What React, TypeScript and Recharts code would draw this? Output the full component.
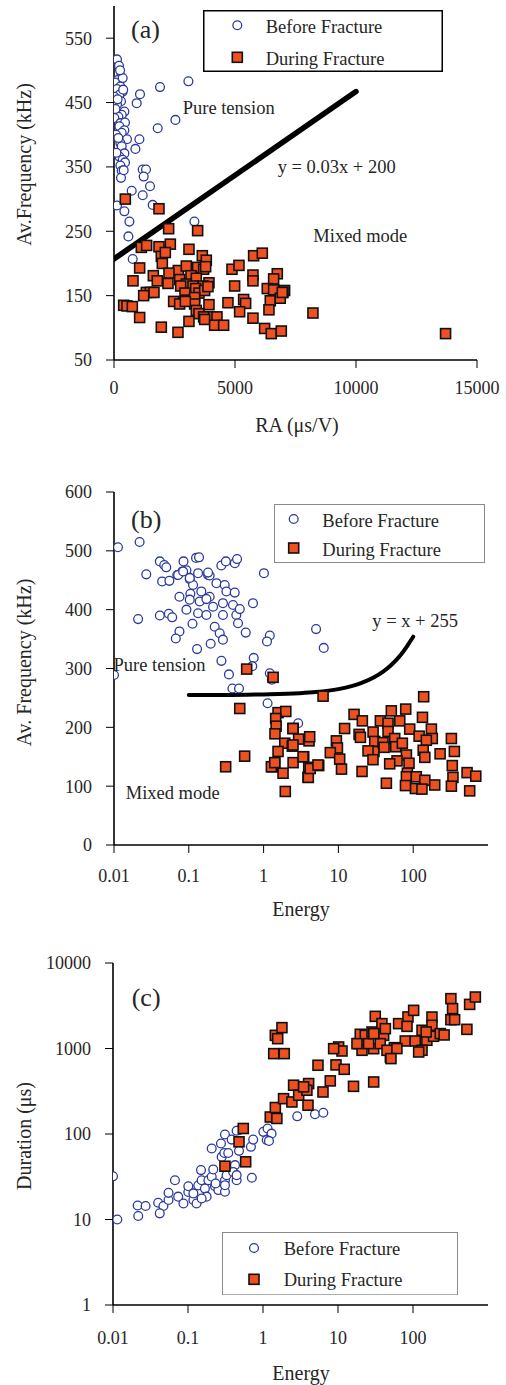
import React from "react";
import { ScatterChart, Scatter, XAxis, YAxis, Legend } from "recharts";

const FONT = '"Liberation Serif", "Times New Roman", serif';
const INK = "#262626";
const BLUE = "#2b3a9c";
const ORANGE = "#ef5020";
const FRAME = "#9a9a9a";

// ---- panel (a): RA vs average frequency ----
const aBeforeRA = [
  124, 207, 289, 153, 359, 41, 264, 124, 359, 223, 17, 289, 124, 429, 318, 182, 17, 264, 455, 223,
  429, 318, 83, 537, 264, 318, 429, 223, 359, 455, 264, 318, 289, 1074, 938, 1901, 3074, 2537, 1806, 1049,
  884, 1186, 1322, 1227, 1488, 731, 1186, 1599, 124, 429, 636, 3322, 595, 773, 60, 180, 100, 400, 150, 250, 380,
];
const aBeforeFreq = [
  517, 507, 490, 485, 488, 481, 475, 471, 467, 462, 459, 452, 447, 436, 431, 428, 426, 418, 419, 413,
  407, 403, 400, 393, 387, 382, 371, 366, 361, 357, 352, 344, 333, 463, 449, 474, 483, 423, 410, 393,
  378, 346, 346, 335, 320, 313, 306, 291, 290, 281, 265, 265, 242, 207, 440, 395, 372, 345, 455, 500, 470,
];
const aDuringRA = [
  468, 1859, 2258, 3456, 1129, 1349, 1859, 2327, 3098, 1955, 2121, 1997, 3649, 3814, 5770, 6128, 1060, 2658, 2988, 3456,
  3704, 3787, 4875, 5164, 6748, 5742, 2272, 2713, 3181, 1625, 1790, 2231, 785, 3401, 3924, 3677, 2988, 3263, 2754, 4985,
  5742, 6596, 6334, 6596, 7050, 6982, 1336, 1501, 1652, 1226, 3374, 3511, 3745, 3883, 2933, 2988, 3332, 3332, 2465, 2713,
  2947, 3924, 4709, 5357, 5439, 6458, 6871, 6954, 399, 537, 757, 3401, 3511, 5191, 6403, 1060, 3952, 4255, 3704, 3745,
  3098, 5742, 4158, 4530, 1955, 2644, 6224, 6499, 6913, 8221, 13701,
];
const aDuringFreq = [
  300, 285, 254, 251, 225, 228, 226, 230, 222, 211, 217, 200, 212, 205, 212, 216, 193, 189, 196, 194,
  191, 195, 191, 197, 184, 182, 185, 175, 181, 181, 173, 169, 173, 177, 170, 165, 168, 165, 165, 165,
  173, 176, 161, 159, 158, 155, 155, 155, 155, 150, 161, 154, 158, 164, 154, 143, 147, 137, 141, 137,
  141, 136, 139, 144, 138, 142, 146, 155, 135, 134, 133, 127, 122, 125, 128, 116, 117, 117, 117, 113,
  110, 115, 104, 104, 101, 93, 99, 91, 95, 123, 91,
];
const aGuideRA = [0, 10000];
const aGuideFreq = [207, 467];

// ---- panel (b): energy vs average frequency ----
const bBeforeEnergy = [
  0.0113, 0.022, 0.027, 0.021, 0.01, 0.041, 0.047, 0.05, 0.085, 0.125, 0.137, 0.044, 0.055, 0.07, 0.082, 0.093,
  0.041, 0.054, 0.06, 0.075, 0.105, 0.103, 0.114, 0.072, 0.084, 0.133, 0.181, 0.103, 0.147, 0.19, 0.234, 0.302,
  0.318, 0.411, 0.103, 0.14, 0.172, 0.211, 0.286, 0.39, 0.093, 0.133, 0.172, 0.286, 0.432, 0.48, 0.112, 0.222,
  0.259, 0.286, 0.455, 0.577, 0.721, 0.075, 0.067, 0.129, 0.196, 0.273, 0.344, 0.738, 1.21, 1.11, 1.21, 1.29,
  0.706, 0.383, 0.469, 1.13, 5.03, 6.37, 1.01, 2.9, 0.272, 0.313, 0.412, 0.442, 0.19, 0.181,
];
const bBeforeFreq = [
  506, 515, 460, 384, 289, 482, 476, 472, 482, 488, 489, 448, 449, 459, 465, 467,
  390, 393, 387, 422, 427, 452, 442, 459, 465, 462, 459, 454, 431, 422, 445, 442,
  431, 429, 417, 414, 418, 405, 411, 408, 400, 394, 391, 391, 391, 401, 376, 371,
  360, 349, 377, 361, 411, 363, 351, 333, 342, 313, 290, 318, 356, 346, 292, 281,
  304, 266, 266, 241, 367, 335, 462, 207, 475, 482, 479, 486, 458, 463,
];
const bDuringEnergy = [
  1.34, 6.24, 138, 1.56, 1.98, 1.45, 1.47, 1.42, 2.48, 2.94, 4.05, 4.13, 1.92, 2.42, 1.56, 1.41, 1.31, 2.48, 1.82,
  3.44, 4.01, 3.93, 5.46, 1.95, 16.2, 20.9, 12.1, 9.4, 18.9, 19.7, 9.7, 7.8, 10.4, 11.0, 20.7, 29.1, 30.6, 29.9,
  24.9, 29.0, 36.4, 46.1, 46.1, 51, 79.4, 66.1, 39.5, 40.8, 56.6, 58.4, 71.6, 89.8, 120, 133, 175, 180, 150, 136,
  143, 81.1, 87.9, 60.8, 48.5, 83.6, 81.1, 110, 143, 194, 107, 131, 43.8, 229, 324, 355, 333, 340, 324, 525, 686,
  569, 78.8, 0.594, 0.48, 0.311, 0.558, 1.27, 1.41, 2.47, 2.47, 3.37, 3.96, 4.2, 5.33,
];
const bDuringFreq = [
  285, 253, 252, 225, 227, 215, 202, 189, 198, 180, 177, 184, 173, 168, 159, 139, 133, 140, 122,
  150, 132, 115, 135, 91, 222, 211, 198, 177, 188, 183, 165, 157, 146, 129, 125, 192, 176, 159,
  160, 145, 211, 207, 193, 228, 231, 211, 174, 166, 181, 167, 173, 197, 185, 217, 197, 181, 178, 161,
  149, 153, 139, 143, 138, 122, 116, 116, 110, 102, 96, 95, 105, 155, 181, 159, 135, 115, 100, 123, 117,
  92, 101, 299, 232, 133, 151, 133, 140, 198, 170, 150, 115, 130, 136,
];
const bGuideEnergy = [0.1, 0.3, 1, 3, 5, 10, 15, 20, 30, 40, 50, 60, 70, 80, 90, 100];
const bGuideFreq = [255, 255, 256, 258, 260, 265, 270, 275, 285, 295, 305, 315, 325, 335, 345, 354];

// ---- panel (c): energy vs duration ----
const cBeforeEnergy = [
  0.01, 0.0114, 0.0213, 0.0272, 0.0217, 0.04, 0.047, 0.042, 0.055, 0.055, 0.067, 0.074, 0.087, 0.101, 0.118, 0.13,
  0.101, 0.118, 0.137, 0.152, 0.149, 0.168, 0.187, 0.207, 0.229, 0.254, 0.311, 0.177, 0.152, 0.217, 0.311, 0.327,
  0.445, 0.423, 0.311, 0.233, 0.281, 0.305, 0.344, 0.207, 0.275, 0.311, 0.382, 0.479, 0.479, 0.69, 0.74, 0.71,
  0.445, 1.01, 1.15, 1.3, 1.12, 1.2, 2.86, 4.93, 6.37, 0.4, 0.445,
];
const cBeforeDuration = [
  32, 10, 14.6, 14.4, 11, 15.7, 14.4, 11.8, 16.9, 20.5, 28.8, 18.5, 15.4, 21, 16.9, 15.4,
  24.5, 20.2, 25, 28.8, 37.8, 23, 28.8, 31.6, 24.5, 22.1, 21.1, 18.5, 17.6, 38.5, 28.8, 33,
  28.8, 43.2, 25.2, 26.4, 54, 60, 60, 67.6, 77.4, 98.6, 86, 63.5, 110.7, 70.8, 86, 30.8,
  109, 106, 116, 101, 85, 83, 161, 170, 177, 36, 33,
];
const cDuringEnergy = [
  0.546, 0.479, 0.587, 0.311, 1.25, 1.53, 1.46, 1.88, 2.43, 2.56, 2.99, 4.06, 3.85, 3.98, 3.48, 6.31, 7.89, 5.41,
  9.4, 12.1, 16.1, 29.9, 1.39, 1.92, 1.46, 1.79, 1.57, 10.2, 11.3, 18.8, 20.9, 19.8, 23.1, 28.4, 29.9, 25.6,
  31.4, 38.5, 40.6, 42.8, 36.6, 49.9, 56.4, 45, 64.3, 85.7, 102, 83.2, 78.9, 107, 132, 153, 132, 119,
  179, 179, 188, 231, 320, 337, 320, 359, 523, 569, 678, 61, 50.8, 8.75, 17.9, 30, 150, 260,
];
const cDuringDuration = [
  116, 81, 47.3, 42, 158, 152, 204, 259, 237, 372, 284, 389, 325, 217, 356, 310, 418, 637,
  643, 571, 361, 406, 871, 871, 1426, 1754, 1303, 1042, 935, 1140, 953, 1466, 1426, 1560, 995, 1140,
  2377, 1954, 1426, 1706, 1140, 796, 1023, 953, 1954, 2339, 2793, 1816, 1224, 1224, 1633, 1248, 953, 910,
  2334, 1866, 1390, 1493, 3828, 2925, 2173, 2173, 1675, 3280, 4000, 998, 762, 996, 1140, 1493, 1560, 1440,
];

type Pt = { x: number; y: number };
const zip = (xs: number[], ys: number[]): Pt[] => xs.map((x, i) => ({ x, y: ys[i] }));

const CircleMark = (p: any) => (
  <circle cx={p.cx} cy={p.cy} r={4.4} fill="#fff" stroke={BLUE} strokeWidth={1.3} />
);
const SquareMark = (p: any) => (
  <rect x={p.cx - 5} y={p.cy - 5} width={10} height={10} fill={ORANGE} stroke="#111" strokeWidth={1.6} />
);
const NoMark = () => <g />;

interface LegendSpec {
  left: number;
  top: number;
  width: number;
  height: number;
  border: string;
  borderWidth: number;
  symX: number;
  textX: number;
  symY: [number, number];
  textY: [number, number];
}

function LegendBox({ spec }: { spec: LegendSpec }) {
  const { width: w, height: h, border, borderWidth: bw } = spec;
  return (
    <svg width={w} height={h} style={{ display: "block" }}>
      <rect x={bw / 2} y={bw / 2} width={w - bw} height={h - bw} fill="#fff" stroke={border} strokeWidth={bw} />
      <circle cx={spec.symX} cy={spec.symY[0]} r={4.4} fill="#fff" stroke={BLUE} strokeWidth={1.3} />
      <rect x={spec.symX - 5} y={spec.symY[1] - 5} width={10} height={10} fill={ORANGE} stroke="#111" strokeWidth={1.6} />
      <text x={spec.textX} y={spec.textY[0]} fontSize={18.5} fontFamily={FONT} fill={INK}>
        Before Fracture
      </text>
      <text x={spec.textX} y={spec.textY[1]} fontSize={18.5} fontFamily={FONT} fill={INK}>
        During Fracture
      </text>
    </svg>
  );
}

interface PanelProps {
  top: number;
  height: number;
  margin: { top: number; right: number; bottom: number; left: number };
  xDomain: [number, number];
  xTicks: number[];
  xLog?: boolean;
  xTickMargin: number;
  yDomain: [number, number];
  yTicks: number[];
  yLog?: boolean;
  before: Pt[];
  during: Pt[];
  guide: Pt[];
  guideWidth: number;
  legend: LegendSpec;
}

const tickStyle = { fill: INK, fontSize: 18, fontFamily: FONT };

function Panel(props: PanelProps) {
  const { legend } = props;
  return (
    <div style={{ position: "absolute", left: 0, top: props.top }}>
      <ScatterChart width={506} height={props.height} margin={props.margin}>
        <XAxis
          type="number"
          dataKey="x"
          scale={props.xLog ? "log" : "linear"}
          domain={props.xDomain}
          ticks={props.xTicks}
          allowDataOverflow
          interval={0}
          height={30}
          tickSize={8}
          tickMargin={props.xTickMargin}
          tick={tickStyle}
          tickLine={{ stroke: "#000", strokeWidth: 1 }}
          axisLine={{ stroke: "#000", strokeWidth: 1.6 }}
        />
        <YAxis
          type="number"
          dataKey="y"
          scale={props.yLog ? "log" : "linear"}
          domain={props.yDomain}
          ticks={props.yTicks}
          allowDataOverflow
          interval={0}
          width={60}
          tickSize={8}
          tickMargin={14}
          tick={tickStyle}
          tickLine={{ stroke: "#000", strokeWidth: 1 }}
          axisLine={{ stroke: "#000", strokeWidth: 1.6 }}
        />
        <XAxis
          xAxisId="frame"
          orientation="top"
          type="number"
          domain={[0, 1]}
          height={0}
          tick={false}
          tickLine={false}
          axisLine={{ stroke: FRAME, strokeWidth: 1.6 }}
        />
        <YAxis
          yAxisId="frame"
          orientation="right"
          type="number"
          domain={[0, 1]}
          width={0}
          tick={false}
          tickLine={false}
          axisLine={{ stroke: FRAME, strokeWidth: 1.6 }}
        />
        <Legend
          layout="vertical"
          align="center"
          verticalAlign="middle"
          wrapperStyle={{ left: legend.left, top: legend.top, width: legend.width, height: legend.height }}
          content={() => <LegendBox spec={legend} />}
        />
        <Scatter
          name="guide"
          data={props.guide}
          shape={NoMark}
          line={{ stroke: "#000", strokeWidth: props.guideWidth, strokeLinecap: "round", strokeLinejoin: "round" }}
          lineJointType="monotoneX"
          legendType="none"
          isAnimationActive={false}
        />
        <Scatter name="Before Fracture" data={props.before} shape={CircleMark} isAnimationActive={false} />
        <Scatter name="During Fracture" data={props.during} shape={SquareMark} isAnimationActive={false} />
      </ScatterChart>
    </div>
  );
}

const notes: { x: number; y: number; s: number; t: string; anchor?: string; rotate?: boolean }[] = [
  { x: 131, y: 38, s: 26, t: "(a)" },
  { x: 182.7, y: 114.3, s: 18.5, t: "Pure tension" },
  { x: 277.7, y: 172.7, s: 18.5, t: "y = 0.03x + 200" },
  { x: 313.3, y: 242.3, s: 18.5, t: "Mixed mode" },
  { x: 297, y: 432, s: 20, t: "RA (μs/V)", anchor: "middle" },
  { x: 31, y: 164.5, s: 20, t: "Av.Frequency (kHz)", anchor: "middle", rotate: true },
  { x: 131, y: 528, s: 26, t: "(b)" },
  { x: 113.5, y: 671.3, s: 18.5, t: "Pure tension" },
  { x: 372.3, y: 627, s: 18.5, t: "y = x + 255" },
  { x: 125.7, y: 798.7, s: 18.5, t: "Mixed mode" },
  { x: 301, y: 916, s: 20, t: "Energy", anchor: "middle" },
  { x: 31, y: 662.5, s: 20, t: "Av. Frequency (kHz)", anchor: "middle", rotate: true },
  { x: 131.7, y: 1006, s: 26, t: "(c)" },
  { x: 301, y: 1380, s: 20, t: "Energy", anchor: "middle" },
  { x: 31, y: 1136, s: 20, t: "Duration (μs)", anchor: "middle", rotate: true },
];

export default function App() {
  return (
    <div style={{ position: "absolute", left: 0, top: 0, width: 506, height: 1385, background: "#fff" }}>
      <Panel
        top={0}
        height={420}
        margin={{ top: 6, right: 29, bottom: 30, left: 54 }}
        xDomain={[0, 15000]}
        xTicks={[0, 5000, 10000, 15000]}
        xTickMargin={13}
        yDomain={[50, 600]}
        yTicks={[50, 150, 250, 350, 450, 550]}
        before={zip(aBeforeRA, aBeforeFreq)}
        during={zip(aDuringRA, aDuringFreq)}
        guide={zip(aGuideRA, aGuideFreq)}
        guideWidth={5.5}
        legend={{
          left: 203, top: 9.7, width: 240, height: 62, border: "#000", borderWidth: 1.5,
          symX: 34.3, textX: 62.7, symY: [15.3, 47.3], textY: [23.3, 55],
        }}
      />
      <Panel
        top={440}
        height={460}
        margin={{ top: 52, right: 18, bottom: 25, left: 54 }}
        xDomain={[0.01, 1000]}
        xTicks={[0.01, 0.1, 1, 10, 100]}
        xLog
        xTickMargin={16}
        yDomain={[0, 600]}
        yTicks={[0, 100, 200, 300, 400, 500, 600]}
        before={zip(bBeforeEnergy, bBeforeFreq)}
        during={zip(bDuringEnergy, bDuringFreq)}
        guide={zip(bGuideEnergy, bGuideFreq)}
        guideWidth={4}
        legend={{
          left: 274, top: 64.3, width: 211, height: 59, border: "#8a8a8a", borderWidth: 1,
          symX: 19.7, textX: 48.3, symY: [15, 44], textY: [22.7, 51.7],
        }}
      />
      <Panel
        top={900}
        height={485}
        margin={{ top: 63, right: 18, bottom: 50, left: 53 }}
        xDomain={[0.01, 1000]}
        xTicks={[0.01, 0.1, 1, 10, 100]}
        xLog
        xTickMargin={18}
        yDomain={[1, 10000]}
        yTicks={[1, 10, 100, 1000, 10000]}
        yLog
        before={zip(cBeforeEnergy, cBeforeDuration)}
        during={zip(cDuringEnergy, cDuringDuration)}
        guide={[]}
        guideWidth={0}
        legend={{
          left: 222.3, top: 331.7, width: 236, height: 63.3, border: "#8a8a8a", borderWidth: 1,
          symX: 32, textX: 61.7, symY: [16, 47.3], textY: [23, 54.3],
        }}
      />
      <svg
        width={506}
        height={1385}
        style={{ position: "absolute", left: 0, top: 0, pointerEvents: "none" }}
      >
        {notes.map((n, i) => (
          <text
            key={i}
            x={n.x}
            y={n.y}
            fontSize={n.s}
            fontFamily={FONT}
            fill={INK}
            textAnchor={(n.anchor as any) ?? "start"}
            transform={n.rotate ? `rotate(-90 ${n.x} ${n.y})` : undefined}
          >
            {n.t}
          </text>
        ))}
      </svg>
    </div>
  );
}
